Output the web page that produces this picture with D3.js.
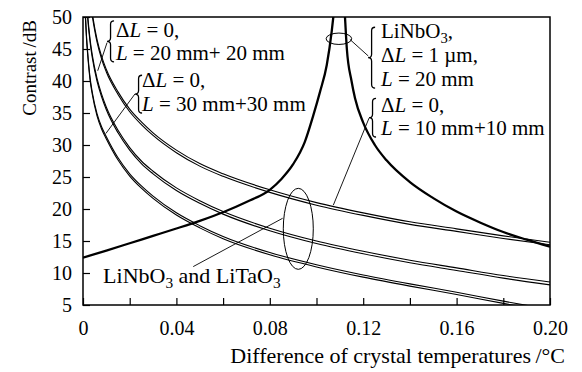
<!DOCTYPE html>
<html>
<head>
<meta charset="utf-8">
<script src="https://cdn.jsdelivr.net/npm/d3@7"></script>
<style>
  body { margin: 0; background: #fff; }
  svg { font-family: "Liberation Serif", "Times New Roman", serif; }
</style>
</head>
<body>
<div id="chart"></div>
<script>
"use strict";

// axes
var xTickValues = [0, 0.02, 0.04, 0.06, 0.08, 0.10, 0.12, 0.14, 0.16, 0.18, 0.20];
var xLabelValues = [0, 0.04, 0.08, 0.12, 0.16, 0.20];
var xLabels = ["0", "0.04", "0.08", "0.12", "0.16", "0.20"];
var yTickValues = [5, 10, 15, 20, 25, 30, 35, 40, 45, 50];

// double-crystal curves (LiNbO3 / LiTaO3), dB
var pairX = [0.001, 0.0015, 0.002, 0.003, 0.004, 0.006, 0.008, 0.01, 0.015, 0.02, 0.025,
             0.03, 0.04, 0.05, 0.06, 0.08, 0.10, 0.12, 0.14, 0.16, 0.18, 0.20];
var pair10a = [62.5, 59.0, 56.5, 53.0, 50.5, 46.5, 43.8, 41.8, 38.3, 35.6, 33.6,
               31.9, 29.2, 27.1, 25.5, 23.0, 21.0, 19.4, 18.0, 16.9, 15.8, 14.8];
var pair10b = [62.1, 58.6, 56.1, 52.6, 50.1, 46.1, 43.4, 41.4, 37.9, 35.2, 33.2,
               31.5, 28.8, 26.7, 25.1, 22.6, 20.6, 19.0, 17.6, 16.5, 15.4, 14.4];
var pair20a = [56.5, 53.0, 50.3, 46.6, 44.0, 40.4, 37.9, 35.9, 32.3, 29.6, 27.5,
               25.9, 23.3, 21.3, 19.6, 17.0, 15.0, 13.4, 12.0, 10.8, 9.6, 8.6];
var pair20b = [56.1, 52.6, 49.9, 46.2, 43.6, 40.0, 37.5, 35.5, 31.9, 29.2, 27.1,
               25.5, 22.9, 20.9, 19.2, 16.6, 14.6, 13.0, 11.6, 10.4, 9.2, 8.15];
var pair30a = [50.5, 47.0, 44.5, 40.6, 38.2, 34.9, 32.8, 31.3, 28.0, 25.5, 23.6,
               22.0, 19.4, 17.4, 15.7, 13.2, 11.3, 9.7, 8.3, 7.0, 5.6, 4.3];
var pair30b = [50.15, 46.65, 44.15, 40.25, 37.85, 34.55, 32.45, 30.95, 27.65, 25.15, 23.25,
               21.65, 19.05, 17.05, 15.35, 12.85, 10.95, 9.35, 7.95, 6.65, 5.25, 3.95];

// single LiNbO3 crystal, dL = 1 um, L = 20 mm (two branches around the pole)
var boldLeftX = [0, 0.01, 0.02, 0.03, 0.04, 0.05, 0.06, 0.07, 0.08, 0.085, 0.09,
                 0.095, 0.0986, 0.1015, 0.1044, 0.1065, 0.1072, 0.108];
var boldLeftY = [12.4, 13.5, 14.65, 15.8, 16.95, 18.15, 19.5, 21.1, 23.0, 24.7, 27.0,
                 30.5, 34.6, 38.3, 42.5, 47.7, 50.0, 53.0];
var boldRightX = [0.1115, 0.1122, 0.113, 0.115, 0.1165, 0.12, 0.125, 0.13, 0.14,
                  0.15, 0.16, 0.17, 0.18, 0.19, 0.20];
var boldRightY = [54.5, 50.0, 45.0, 40.0, 37.3, 33.5, 30.0, 27.6, 24.2,
                  21.7, 19.6, 17.9, 16.4, 15.2, 14.1];

var W = 582, H = 372;
var margin = { top: 17, right: 32, bottom: 67, left: 83 };
var width = W - margin.left - margin.right;
var height = H - margin.top - margin.bottom;

var x = d3.scaleLinear().domain([0, 0.2]).range([0, width]);
var y = d3.scaleLinear().domain([5, 50]).range([height, 0]);

var svg = d3.select("#chart").append("svg")
  .attr("width", W)
  .attr("height", H);

var g = svg.append("g")
  .attr("transform", "translate(" + margin.left + "," + margin.top + ")");

svg.append("defs").append("clipPath").attr("id", "plot")
  .append("rect").attr("width", width).attr("height", height);

var zip = function(xs, ys) {
  return xs.map(function(v, i) { return [v, ys[i]]; });
};

var line = d3.line()
  .x(function(d) { return x(d[0]); })
  .y(function(d) { return y(d[1]); })
  .curve(d3.curveMonotoneX);

// axes (ticks point inward)
var xAxis = g.append("g")
  .attr("transform", "translate(0," + height + ")")
  .call(d3.axisBottom(x).tickValues(xTickValues).tickSize(-7)
    .tickFormat(function(d) {
      var i = xLabelValues.findIndex(function(v) { return Math.abs(v - d) < 1e-9; });
      return i < 0 ? "" : xLabels[i];
    }));
xAxis.attr("font-family", null).attr("font-size", 20);
xAxis.select(".domain").remove();
xAxis.selectAll("line").attr("stroke-width", 1.2);
xAxis.selectAll("text").attr("y", 30).attr("dy", 0).attr("fill", "#000");

var yAxis = g.append("g")
  .call(d3.axisLeft(y).tickValues(yTickValues).tickSize(-7).tickFormat(d3.format("d")));
yAxis.attr("font-family", null).attr("font-size", 20);
yAxis.select(".domain").remove();
yAxis.selectAll("line").attr("stroke-width", 1.2);
yAxis.selectAll("text").attr("x", -11).attr("dy", "0.34em").attr("fill", "#000");

g.append("rect")
  .attr("width", width).attr("height", height)
  .attr("fill", "none").attr("stroke", "#000").attr("stroke-width", 1.5);

// curves
var curves = g.append("g").attr("clip-path", "url(#plot)");

[pair10a, pair10b, pair20a, pair20b, pair30a, pair30b].forEach(function(ys) {
  curves.append("path")
    .datum(zip(pairX, ys))
    .attr("d", line)
    .attr("fill", "none").attr("stroke", "#000").attr("stroke-width", 1.1);
});

[zip(boldLeftX, boldLeftY), zip(boldRightX, boldRightY)].forEach(function(pts) {
  curves.append("path")
    .datum(pts)
    .attr("d", line)
    .attr("fill", "none").attr("stroke", "#000").attr("stroke-width", 2.3);
});

// annotations
var ann = g.append("g").attr("fill", "none").attr("stroke", "#000");

var pointers = [
  [[0.0472, 11.0], [0.0855, 18.55]],
  [[0.0103, 46.0], [0.0063, 41.6]],
  [[0.0223, 38.0], [0.0098, 31.8]],
  [[0.1143, 46.5], [0.1222, 43.9]],
  [[0.1225, 34.2], [0.1072, 20.6]]
];
pointers.forEach(function(p) {
  ann.append("line")
    .attr("x1", x(p[0][0])).attr("y1", y(p[0][1]))
    .attr("x2", x(p[1][0])).attr("y2", y(p[1][1]))
    .attr("stroke-width", 0.9);
});

ann.append("ellipse")
  .attr("cx", x(0.1096)).attr("cy", y(46.6)).attr("rx", 12.8).attr("ry", 5.7)
  .attr("stroke-width", 1);
ann.append("ellipse")
  .attr("cx", x(0.0922)).attr("cy", y(16.9)).attr("rx", 15).attr("ry", 40.5)
  .attr("stroke-width", 1);

var bracePath = function(xt, y0, y1, w) {
  var ym = (y0 + y1) / 2, xm = xt + w / 2, r = w / 2;
  return "M" + (xt + w) + "," + y0 +
    " Q" + xm + "," + y0 + " " + xm + "," + (y0 + r) +
    " L" + xm + "," + (ym - r) +
    " Q" + xm + "," + ym + " " + xt + "," + ym +
    " Q" + xm + "," + ym + " " + xm + "," + (ym + r) +
    " L" + xm + "," + (y1 - r) +
    " Q" + xm + "," + y1 + " " + (xt + w) + "," + y1;
};

[[0.0103, 49.4, 43.0], [0.0223, 40.9, 35.0], [0.1221, 48.4, 38.9], [0.1225, 37.3, 31.25]]
  .forEach(function(b) {
    ann.append("path")
      .attr("d", bracePath(x(b[0]), y(b[1]), y(b[2]), 7))
      .attr("stroke-width", 1.3);
  });

var rich = function(px, py, parts, size) {
  size = size || 21;
  var t = g.append("text").attr("x", px).attr("y", py)
    .attr("font-size", size).attr("fill", "#000");
  var shifted = false;
  parts.forEach(function(p) {
    var s = t.append("tspan").text(p[0]);
    if (p[1] === "i") s.style("font-style", "italic");
    if (p[1] === "sub") { s.attr("font-size", size * 0.7).attr("dy", 5); shifted = true; }
    else if (shifted) { s.attr("dy", -5); shifted = false; }
  });
  return t;
};

var dL = [["\u0394"], ["L", "i"], [" = 0,"]];

rich(x(0.0141), y(46.9), dL);
rich(x(0.0141), y(43.3), [["L", "i"], [" = 20 mm+ 20 mm"]]);
rich(x(0.0253), y(39.06), dL);
rich(x(0.0253), y(35.3), [["L", "i"], [" = 30 mm+30 mm"]]);

rich(x(0.1276), y(46.7), [["LiNbO"], ["3", "sub"], [","]]);
rich(x(0.1276), y(42.97), [["\u0394"], ["L", "i"], [" = 1 \u00b5m,"]]);
rich(x(0.1276), y(39.2), [["L", "i"], [" = 20 mm"]]);
rich(x(0.1276), y(35.16), dL);
rich(x(0.1276), y(31.56), [["L", "i"], [" = 10 mm+10 mm"]]);

rich(x(0.0086), y(8.44), [["LiNbO"], ["3", "sub"], [" and LiTaO"], ["3", "sub"]], 22);

// axis titles
svg.append("text")
  .attr("x", 565).attr("y", 363)
  .attr("text-anchor", "end").attr("font-size", 22)
  .text("Difference of crystal temperatures\u2009/\u00b0C");

svg.append("text")
  .attr("transform", "translate(36,20) rotate(-90)")
  .attr("text-anchor", "end").attr("font-size", 19)
  .text("Contrast\u2009/dB");
</script>
</body>
</html>
